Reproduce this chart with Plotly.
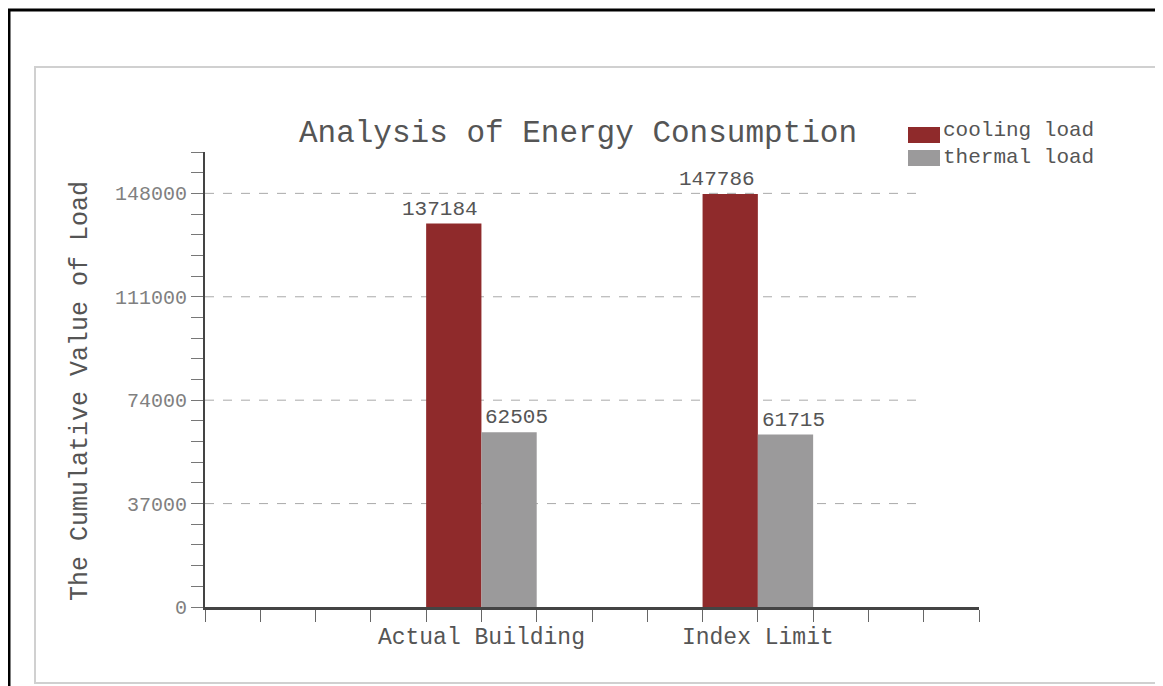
import plotly.graph_objects as go

categories = ["Actual Building", "Index Limit"]
cat_pos = [5, 10]
cooling_load = [137184, 147786]
thermal_load = [62505, 61715]
y_ticks = [0, 37000, 74000, 111000, 148000]
series_names = ["cooling load", "thermal load"]
colors = ["#8f2a2b", "#9b9a9b"]

FONT = "Liberation Mono"
OFF = 8  # default page margin of the html body
W, H = 1163, 686
# plot area in window pixels: x 205..979, y 152..607
L = 205 - OFF
T = 152 - OFF
R = W - (979 - OFF)
B = H - (607 - OFF)
pw, ph = W - L - R, H - T - B

def px(x):
    return (x - OFF - L) / pw

def py(y):
    return (H - B - (y - OFF)) / ph

fig = go.Figure()
fig.add_trace(go.Bar(x=cat_pos, y=cooling_load, width=1, offset=-1, name=series_names[0],
                     marker=dict(color=colors[0], line=dict(width=0))))
fig.add_trace(go.Bar(x=cat_pos, y=thermal_load, width=1, offset=0, name=series_names[1],
                     marker=dict(color=colors[1], line=dict(width=0))))

shapes = []
# dashed horizontal gridlines
for v in y_ticks[1:]:
    shapes.append(dict(type="line", xref="x", yref="y", x0=0, x1=13, y0=v, y1=v,
                       line=dict(color="#aaa", width=1, dash="dash"), layer="below"))
# outer black frame
shapes.append(dict(type="line", xref="paper", yref="paper", x0=px(8), x1=px(1180), y0=py(10), y1=py(10),
                   line=dict(color="black", width=3)))
shapes.append(dict(type="line", xref="paper", yref="paper", x0=px(9), x1=px(9), y0=py(10), y1=py(700),
                   line=dict(color="black", width=3)))
# inner gray frame
shapes.append(dict(type="rect", xref="paper", yref="paper", x0=px(35), x1=px(1160), y0=py(67), y1=py(683),
                   line=dict(color="#d0d0d0", width=2)))
# legend swatches
for i, (nm, c) in enumerate(zip(series_names, colors)):
    yc = 135 + i * 23
    shapes.append(dict(type="rect", xref="paper", yref="paper", x0=px(908), x1=px(940),
                       y0=py(yc - 8), y1=py(yc + 8), line=dict(width=0), fillcolor=c))

annotations = []
for i, nm in enumerate(series_names):
    yc = 131 + i * 27
    annotations.append(dict(text=nm, xref="paper", yref="paper", x=px(941), y=py(yc),
                            xanchor="left", yanchor="middle", showarrow=False,
                            font=dict(family=FONT, size=21, color="#555")))
# value labels: cooling right-aligned to category centre, thermal left-aligned
for xc, v in zip(cat_pos, cooling_load):
    annotations.append(dict(text=str(v), xref="x", yref="y", x=xc, y=v, xanchor="right",
                            yanchor="bottom", xshift=-1, yshift=1, showarrow=False,
                            font=dict(family=FONT, size=21, color="#555")))
for xc, v in zip(cat_pos, thermal_load):
    annotations.append(dict(text=str(v), xref="x", yref="y", x=xc, y=v, xanchor="left",
                            yanchor="bottom", xshift=2, yshift=1, showarrow=False,
                            font=dict(family=FONT, size=21, color="#555")))
# y-axis title
annotations.append(dict(text="The Cumulative Value of Load", xref="paper", yref="paper",
                        x=px(80), y=py(391), xanchor="center", yanchor="middle",
                        textangle=-90, showarrow=False,
                        font=dict(family=FONT, size=25, color="#555")))

fig.update_layout(
    width=W, height=H,
    margin=dict(l=L, r=R, t=T, b=B),
    paper_bgcolor="white", plot_bgcolor="white",
    showlegend=False,
    barmode="overlay",
    title=dict(text="Analysis of Energy Consumption", xref="paper", x=px(578), xanchor="center",
               y=1 - (131 - OFF) / H, yanchor="middle",
               font=dict(family=FONT, size=31, color="#555")),
    shapes=shapes, annotations=annotations,
    xaxis=dict(range=[0, 14], tickvals=cat_pos, ticktext=categories,
               showgrid=False, zeroline=False, showline=True, linecolor="#444", linewidth=3,
               ticks="outside", ticklen=12, tickcolor="#666", tickwidth=1,
               minor=dict(dtick=1, tick0=0, ticks="outside", ticklen=12, tickcolor="#666", showgrid=False),
               tickfont=dict(family=FONT, size=23, color="#555"), ticklabelstandoff=-6),
    yaxis=dict(range=[0, 162800], tickvals=y_ticks, ticktext=[str(v) for v in y_ticks],
               showgrid=False, zeroline=False, showline=True, linecolor="#444", linewidth=2,
               ticks="outside", ticklen=12, tickcolor="#777", tickwidth=1,
               minor=dict(dtick=7400, tick0=0, ticks="outside", ticklen=12, tickcolor="#777", showgrid=False),
               tickfont=dict(family=FONT, size=20, color="#808080")),
)

fig.write_html("out.html")
